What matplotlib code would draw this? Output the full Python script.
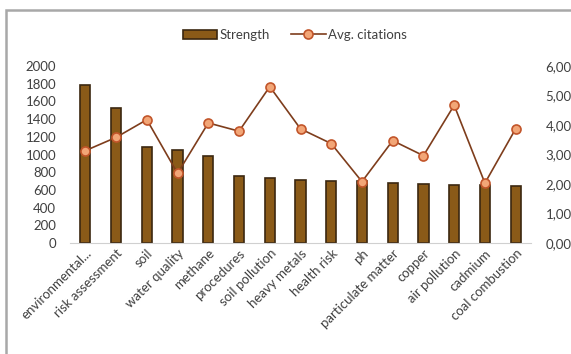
import matplotlib as mpl
import matplotlib.pyplot as plt
from matplotlib.patches import Rectangle
from matplotlib.ticker import FuncFormatter

mpl.rcParams['font.family'] = ['Lato', 'DejaVu Sans']

categories = [
    "environmental...", "risk assessment", "soil", "water quality", "methane",
    "procedures", "soil pollution", "heavy metals", "health risk", "ph",
    "particulate matter", "copper", "air pollution", "cadmium", "coal combustion",
]
strength = [1790, 1525, 1085, 1047, 983, 754, 738, 708, 704, 697, 681, 670, 659, 652, 644]
avg_citations = [3.13, 3.58, 4.18, 2.36, 4.07, 3.79, 5.30, 3.87, 3.37, 2.08, 3.47, 2.96, 4.67, 2.03, 3.87]

bar_color = "#8a5a18"
bar_edge = "#3b2710"
line_color = "#7e3d1c"
marker_face = "#f2a677"
marker_edge = "#c2552a"
text_color = "#404040"
fs = 9.5

fig = plt.figure(figsize=(5.71, 3.54), dpi=100)

# chart area border (right/bottom edges fall outside the canvas)
fig.patches.append(Rectangle((6 / 571, -0.1), 1.2, 1.1 - 10 / 354,
                             transform=fig.transFigure, fill=False,
                             edgecolor="#a8a8a8", linewidth=1.8))

ax1 = fig.add_axes([70 / 571, 1 - 243 / 354, (531 - 70) / 571, (243 - 66) / 354])
x = list(range(len(categories)))

bars = ax1.bar(x, strength, width=0.33, color=bar_color, edgecolor=bar_edge,
               linewidth=1.2, label="Strength", zorder=2)
ax1.set_ylim(0, 2000)
ax1.set_yticks(range(0, 2001, 200))
ax1.set_xlim(-0.5, len(categories) - 0.5)
ax1.set_xticks(x)
ax1.set_xticklabels(categories, rotation=45, ha="right", rotation_mode="anchor",
                    fontsize=fs, color=text_color)
ax1.tick_params(axis="y", length=0, labelsize=fs, labelcolor=text_color, pad=10)
ax1.tick_params(axis="x", length=0, pad=3)
for side in ["top", "right", "left"]:
    ax1.spines[side].set_visible(False)
ax1.spines["bottom"].set_color("#d0d0d0")

ax2 = ax1.twinx()
ln, = ax2.plot(x, avg_citations, "-o", color=line_color, linewidth=1.2,
               markersize=6.5, markerfacecolor=marker_face,
               markeredgecolor=marker_edge, markeredgewidth=1.2,
               label="Avg. citations", zorder=3)
ax2.set_ylim(0, 6)
ax2.set_yticks(range(0, 7))
# decimal comma, two places
ax2.yaxis.set_major_formatter(FuncFormatter(lambda v, p: f"{v:.2f}".replace(".", ",")))
ax2.tick_params(axis="y", length=0, labelsize=fs, labelcolor=text_color, pad=10.5)
for side in ["top", "right", "left", "bottom"]:
    ax2.spines[side].set_visible(False)

fig.legend(handles=[bars, ln], loc="center", bbox_to_anchor=(295 / 571, 1 - 35 / 354),
           ncol=2, frameon=False, fontsize=fs, handlelength=2.6,
           handletextpad=0.2, columnspacing=1.6, labelcolor=text_color)

fig.savefig("out.png", dpi=100)
